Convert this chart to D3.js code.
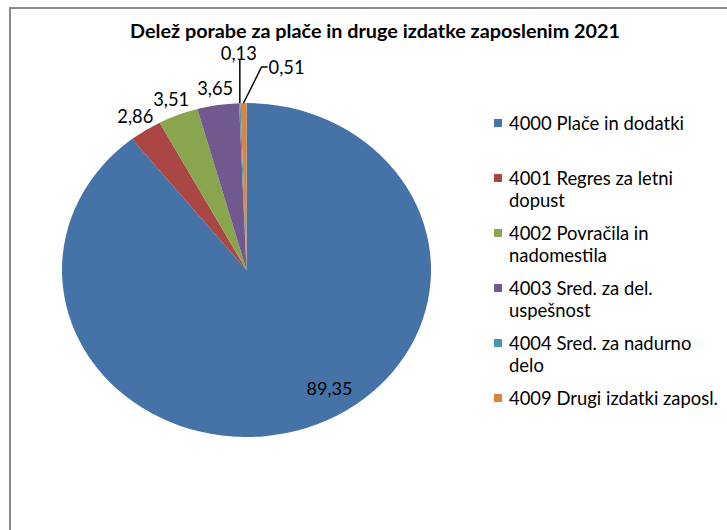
<!DOCTYPE html>
<html><head><meta charset="utf-8">
<script src="https://cdn.jsdelivr.net/npm/d3@7"></script>
<style>body{margin:0;background:#fff}svg{display:block}</style></head>
<body>
<svg id="c" width="727" height="530"></svg>
<script>
// ---- data ----
const categories = ["4000 Plače in dodatki","4001 Regres za letni dopust","4002 Povračila in nadomestila","4003 Sred. za del. uspešnost","4004 Sred. za nadurno delo","4009 Drugi izdatki zaposl."];
const values = [89.35, 2.86, 3.51, 3.65, 0.13, 0.51];
const valueLabels = ["89,35","2,86","3,51","3,65","0,13","0,51"];
const legendLines = [["4000 Plače in dodatki"],["4001 Regres za letni","dopust"],["4002 Povračila in","nadomestila"],["4003 Sred. za del.","uspešnost"],["4004 Sred. za nadurno","delo"],["4009 Drugi izdatki zaposl."]];
const colors = ["#4572A7","#AA4643","#89A54E","#71588F","#4198AF","#DB843D"];
const title = "Delež porabe za plače in druge izdatke zaposlenim 2021";

// ---- layout ----
const svg = d3.select("#c");
const FONT = "Lato, 'Open Sans', sans-serif";
const cx = 246.5, cy = 270, rx = 184.5, ry = 167;

function fit(sel, base, target){
  sel.style("font-size", base+"px");
  const w = sel.node().getComputedTextLength();
  sel.style("font-size", (base*target/w).toFixed(2)+"px");
}

// frame
svg.append("line").attr("x1",10).attr("x2",727).attr("y1",8).attr("y2",8).attr("stroke","#898989").attr("stroke-width",2);
svg.append("line").attr("x1",10).attr("x2",10).attr("y1",7).attr("y2",530).attr("stroke","#898989").attr("stroke-width",2);

// title
const t = svg.append("text").attr("x",375).attr("y",37.5).attr("text-anchor","middle")
  .attr("font-family",FONT).attr("font-weight","bold").attr("fill","#000").text(title);
fit(t, 16, 490);

// pie
const pie = d3.pie().sort(null).value(d=>d)(values);
const arc = d3.arc().innerRadius(0).outerRadius(rx);
const g = svg.append("g").attr("transform",`translate(${cx},${cy}) scale(1,${ry/rx})`);
g.selectAll("path").data(pie).join("path").attr("d",arc).attr("fill",(d,i)=>colors[i]);

function pt(a,k){ return [cx + k*rx*Math.sin(a), cy - k*ry*Math.cos(a)]; }
const mid = d => (d.startAngle+d.endAngle)/2;

const lab = svg.append("g").attr("font-family",FONT).attr("fill","#000");
pie.forEach((d,i)=>{
  let p, anchor="middle";
  if(i===0){ p = pt(mid(d)-0.23, 0.84); }
  else if(i<=3){ p = pt(mid(d), 1.1); }
  else if(i===4){
    const e = pt(mid(d),1.0);
    svg.append("path").attr("d",`M${e[0]},${e[1]}V${e[1]-43}`).attr("stroke","#000").attr("stroke-width",1.5).attr("fill","none");
    p = [e[0]-1, e[1]-50];
  } else {
    const e = pt(mid(d),1.0);
    svg.append("path").attr("d",`M${e[0]},${e[1]}L${e[0]+18},${e[1]-36}H${e[0]+24}`).attr("stroke","#000").attr("stroke-width",1.5).attr("fill","none");
    p = [e[0]+25, e[1]-36]; anchor="start";
  }
  const tx = lab.append("text").attr("x",p[0]).attr("y",p[1]).attr("dy","0.36em").attr("text-anchor",anchor).text(valueLabels[i]);
  fit(tx, 15, i===0?46:36);
});

// legend
const leg = svg.append("g").attr("font-family",FONT).attr("fill","#000");
let fs = 15;
const probe = leg.append("text").text("4009 Drugi izdatki zaposl.");
fit(probe, 15, 209); fs = parseFloat(probe.style("font-size")); probe.remove();
legendLines.forEach((lines,i)=>{
  const y0 = 123 + i*55;
  leg.append("rect").attr("x",494).attr("y",y0-4).attr("width",8).attr("height",8).attr("fill",colors[i]);
  lines.forEach((ln,j)=>{
    leg.append("text").attr("x",509).attr("y",y0+j*22).attr("dy","0.36em").style("font-size",fs+"px").text(ln);
  });
});
</script>
</body></html>
